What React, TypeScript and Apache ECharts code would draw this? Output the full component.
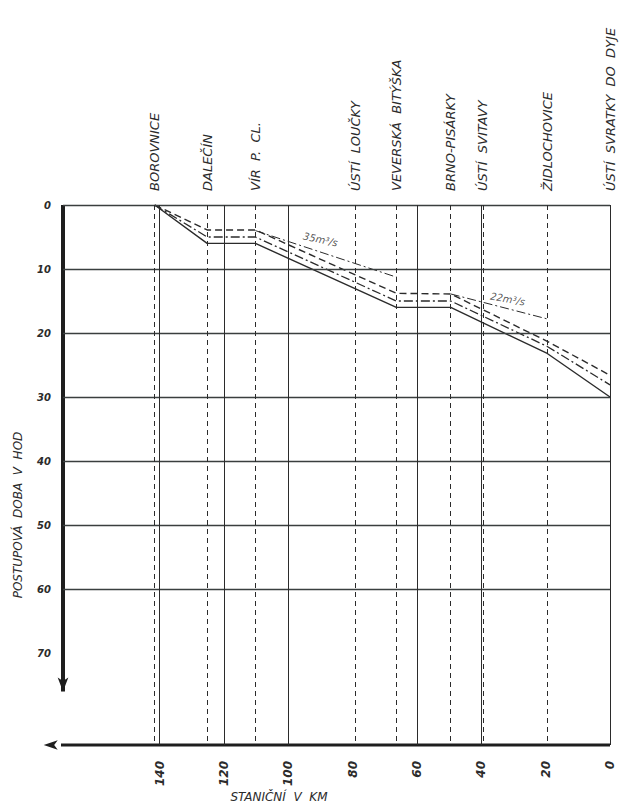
import React, { useEffect, useRef } from "react";
import * as echarts from "echarts";

// ---- data ----
const stationNames = [
  "BOROVNICE",
  "DALEČÍN",
  "VÍR  P.  CL.",
  "ÚSTÍ  LOUČKY",
  "VEVERSKÁ  BITÝŠKA",
  "BRNO-PISÁRKY",
  "ÚSTÍ  SVITAVY",
  "ŽIDLOCHOVICE",
  "ÚSTÍ  SVRATKY  DO  DYJE",
];
const stationKm = [141.5, 125.2, 110.2, 79.2, 66.4, 49.5, 39.5, 19.5, 0];

const kmTicks = [140, 120, 100, 80, 60, 40, 20, 0];
const solidGridKm = [140, 120, 100, 60, 40, 0];
const timeTicks = [0, 10, 20, 30, 40, 50, 60, 70];
const timeGrid = [0, 10, 20, 30, 40, 50, 60];

const curveKm = [141.5, 125.2, 110.2, 66.4, 49.5, 19.5, 0];
const solidTimes = [0, 6.0, 6.0, 16.0, 16.0, 23.2, 30.0];
const dashedTimes = [0, 3.9, 3.9, 13.8, 13.9, 21.3, 26.6];
const dashDotTimes = [0, 5.0, 5.0, 15.0, 15.0, 22.1, 28.1];

const q35Km = [110.2, 66.2];
const q35Times = [4.0, 11.3];
const q22Km = [49.5, 19.5];
const q22Times = [13.9, 17.8];

const labels35 = { text: "35m³/s", km: 90, t: 5.4 };
const labels22 = { text: "22m³/s", km: 31.8, t: 14.7 };

const X_MAX = 170;
const Y_MAX = 84.375;
const Y_ARROW = 76;
const X_ARROW = 176;

const INK = "#2b2b2b";
const FONT = "DejaVu Sans";

const pairs = (xs: number[], ys: number[]) => xs.map((x, i) => [x, ys[i]]);

export default function App() {
  const ref = useRef<HTMLDivElement>(null);
  useEffect(() => {
    if (!ref.current) return;
    const chart = echarts.init(ref.current, null, { renderer: "svg" });
    const nameByKm = new Map(stationKm.map((k, i) => [k, stationNames[i]]));

    const option: any = {
      animation: false,
      backgroundColor: "#ffffff",
      grid: { left: 63, right: 30, top: 205, bottom: 60 },
      xAxis: [
        {
          type: "value",
          min: 0,
          max: X_MAX,
          interval: 10,
          inverse: true,
          position: "bottom",
          axisLine: { show: false },
          axisTick: { show: false },
          splitLine: { show: false },
          axisLabel: {
            customValues: kmTicks,
            formatter: (v: number) => (kmTicks.includes(v) ? String(v) : ""),
            rotate: 90,
            margin: 16,
            color: INK,
            fontSize: 12,
            fontStyle: "italic",
            fontWeight: "bold",
            fontFamily: FONT,
          },
        },
        {
          type: "value",
          min: 0,
          max: X_MAX,
          inverse: true,
          position: "top",
          axisLine: { show: false },
          axisTick: { show: false },
          splitLine: { show: false },
          axisLabel: {
            customValues: stationKm,
            formatter: (v: number) => nameByKm.get(v) ?? "",
            rotate: -90,
            margin: 14,
            color: INK,
            fontSize: 13,
            fontStyle: "italic",
            fontFamily: FONT,
          },
        },
      ],
      yAxis: {
        type: "value",
        min: 0,
        max: Y_MAX,
        interval: 10,
        inverse: true,
        axisLine: { show: false },
        axisTick: { show: false },
        splitLine: { show: false },
        axisLabel: {
          customValues: timeTicks,
          formatter: (v: number) => (timeTicks.includes(v) ? String(v) : ""),
          margin: 12,
          color: INK,
          fontSize: 10,
          fontStyle: "italic",
          fontWeight: "bold",
          fontFamily: FONT,
        },
      },
      series: [
        {
          type: "line",
          data: [],
          silent: true,
          markLine: {
            silent: true,
            symbol: ["none", "none"],
            label: { show: false },
            lineStyle: { color: "#3a3f3f", width: 1.3, type: "solid" },
            data: [
              ...timeGrid.map((t) => ({ yAxis: t })),
              ...solidGridKm.map((k) => ({ xAxis: k, lineStyle: { color: INK, width: 1, type: "solid" } })),
              ...stationKm.map((k) => ({
                xAxis: k,
                lineStyle: { color: INK, width: 1, type: [5, 4] },
              })),
            ],
          },
        },
        {
          type: "line",
          data: pairs(curveKm, solidTimes),
          symbol: "none",
          lineStyle: { color: INK, width: 1.4, type: "solid" },
        },
        {
          type: "line",
          data: pairs(curveKm, dashedTimes),
          symbol: "none",
          lineStyle: { color: INK, width: 1.4, type: [7, 4] },
        },
        {
          type: "line",
          data: pairs(curveKm, dashDotTimes),
          symbol: "none",
          lineStyle: { color: INK, width: 1.3, type: [9, 3, 2, 3] },
        },
        {
          type: "line",
          data: pairs(q35Km, q35Times),
          symbol: "none",
          lineStyle: { color: INK, width: 1, type: [9, 3, 2, 3] },
        },
        {
          type: "line",
          data: pairs(q22Km, q22Times),
          symbol: "none",
          lineStyle: { color: INK, width: 1, type: [9, 3, 2, 3] },
        },
        {
          type: "scatter",
          symbolSize: 0,
          silent: true,
          data: [
            { value: [labels35.km, labels35.t], name: labels35.text, rot: -12 },
            { value: [labels22.km, labels22.t], name: labels22.text, rot: -10 },
          ].map((d) => ({
            value: d.value,
            label: {
              show: true,
              position: "inside",
              formatter: d.name,
              rotate: d.rot,
              color: INK,
              fontSize: 10,
              fontStyle: "italic",
              fontFamily: FONT,
            },
          })),
        },
        {
          // y axis line with arrow
          type: "line",
          clip: false,
          silent: true,
          data: [
            { value: [X_MAX, 0], symbol: "none" },
            { value: [X_MAX, Y_ARROW], symbol: "arrow", symbolSize: [8, 14], symbolRotate: 180 },
          ],
          lineStyle: { color: "#1e1e1e", width: 4 },
          itemStyle: { color: "#1e1e1e" },
        },
        {
          // x axis line with arrow
          type: "line",
          clip: false,
          silent: true,
          data: [
            { value: [X_ARROW, Y_MAX], symbol: "arrow", symbolSize: [7, 14], symbolRotate: 90 },
            { value: [0, Y_MAX], symbol: "none" },
          ],
          lineStyle: { color: "#1e1e1e", width: 3 },
          itemStyle: { color: "#1e1e1e" },
        },
      ],
      graphic: [
        {
          type: "text",
          x: 18,
          y: 515,
          rotation: Math.PI / 2,
          style: {
            text: "POSTUPOVÁ  DOBA  V  HOD",
            fill: INK,
            font: `italic 12px "${FONT}"`,
            align: "center",
            verticalAlign: "middle",
          },
        },
        {
          type: "text",
          x: 279,
          y: 797,
          style: {
            text: "STANIČNÍ  V  KM",
            fill: INK,
            font: `italic 12px "${FONT}"`,
            align: "center",
            verticalAlign: "middle",
          },
        },
      ],
    };
    chart.setOption(option);
    return () => chart.dispose();
  }, []);
  return (
    <div
      ref={ref}
      style={{ position: "fixed", left: 0, top: 0, width: 640, height: 805 }}
    />
  );
}
